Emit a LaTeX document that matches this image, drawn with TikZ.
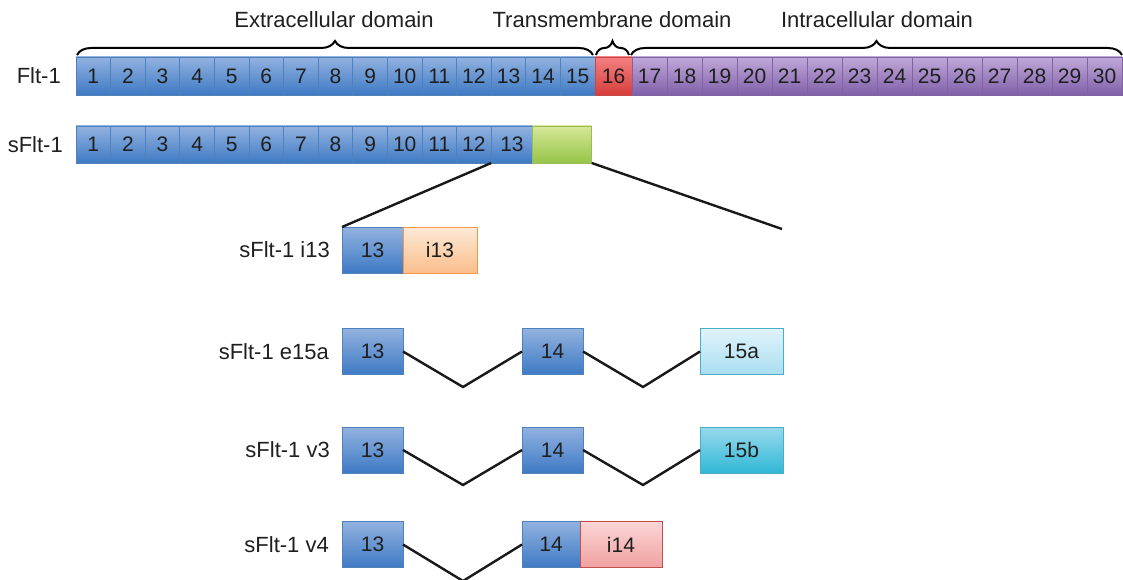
\documentclass[tikz,border=0pt]{standalone}
\usepackage{fontspec}
\setmainfont{Liberation Sans}
\usetikzlibrary{positioning, decorations.pathreplacing}

\definecolor{ExonTop}{RGB}{146,178,224}
\definecolor{ExonBottom}{RGB}{62,122,196}
\definecolor{ExonLine}{RGB}{79,129,189}
\definecolor{TmTop}{RGB}{244,128,128}
\definecolor{TmBottom}{RGB}{214,62,60}
\definecolor{TmLine}{RGB}{200,70,70}
\definecolor{IcTop}{RGB}{192,168,216}
\definecolor{IcBottom}{RGB}{128,96,170}
\definecolor{IcLine}{RGB}{128,100,162}
\definecolor{TailTop}{RGB}{214,232,152}
\definecolor{TailBottom}{RGB}{150,196,72}
\definecolor{TailLine}{RGB}{155,187,89}
\definecolor{IntronTop}{RGB}{253,234,214}
\definecolor{IntronBottom}{RGB}{250,190,140}
\definecolor{IntronLine}{RGB}{247,150,70}
\definecolor{AltATop}{RGB}{224,243,251}
\definecolor{AltABottom}{RGB}{170,222,240}
\definecolor{AltBTop}{RGB}{152,217,237}
\definecolor{AltBBottom}{RGB}{48,184,214}
\definecolor{AltLine}{RGB}{75,172,198}
\definecolor{RetTop}{RGB}{251,214,214}
\definecolor{RetBottom}{RGB}{241,160,160}
\definecolor{RetLine}{RGB}{192,80,77}
\colorlet{LabelText}{black!88}

\tikzset{
    segment/.style={inner sep=0pt, outer sep=0pt, line width=0.8pt,
        font=\fontsize{21}{25}\selectfont, text=LabelText},
    extra/.style={segment, draw=ExonLine, top color=ExonTop, bottom color=ExonBottom},
    tm/.style={segment, draw=TmLine, top color=TmTop, bottom color=TmBottom},
    intra/.style={segment, draw=IcLine, top color=IcTop, bottom color=IcBottom},
    tail/.style={segment, draw=TailLine, top color=TailTop, bottom color=TailBottom},
    intron/.style={segment, draw=IntronLine, top color=IntronTop, bottom color=IntronBottom},
    alta/.style={segment, draw=AltLine, top color=AltATop, bottom color=AltABottom},
    altb/.style={segment, draw=AltLine, top color=AltBTop, bottom color=AltBBottom},
    retained/.style={segment, draw=RetLine, top color=RetTop, bottom color=RetBottom},
    rowlabel/.style={inner sep=0pt, font=\fontsize{22}{26}\selectfont, text=LabelText},
    domaintext/.style={inner sep=0pt, font=\fontsize{22}{26}\selectfont, text=LabelText},
    splice/.style={line width=2.4pt, black!90},
    domainbrace/.style={decorate, decoration={brace, amplitude=14pt}, line width=2pt}
}

\begin{document}
\begin{tikzpicture}[x=1pt, y=-1pt]

    \useasboundingbox (0,0) rectangle (1123,580);

    % Flt-1 completo
    \foreach \i in {1,...,15}
        \node[extra, minimum width=34.6, minimum height=38] (f\i) at ({76+(\i-0.5)*34.6},76) {\i};
    \node[tm, minimum width=37, minimum height=38, right=0pt of f15] (f16) {16};
    \foreach \i in {17,...,30}
        \node[intra, minimum width=35, minimum height=38] (f\i) at ({632+(\i-16.5)*35},76) {\i};
    \node[rowlabel, left=15pt of f1] (flt) {Flt-1};

    % Llaves de los dominios
    \draw[domainbrace] ([xshift=1pt, yshift=2pt]f1.north west) -- ([xshift=-2pt, yshift=2pt]f15.north east);
    \draw[domainbrace] ([xshift=1pt, yshift=2pt]f16.north west) -- ([xshift=-3pt, yshift=2pt]f16.north east);
    \draw[domainbrace] ([xshift=-1pt, yshift=2pt]f17.north west) -- ([yshift=2pt]f30.north east);
    \node[domaintext] (extralabel) at (334,20) {Extracellular domain};
    \node[domaintext] (tmlabel) at (612,20) {Transmembrane domain};
    \node[domaintext] (intralabel) at (877,20) {Intracellular domain};

    % sFlt-1
    \foreach \i in {1,...,12}
        \node[extra, minimum width=34.6, minimum height=37] (s\i) at ({76+(\i-0.5)*34.6},144.5) {\i};
    \node[extra, minimum width=41.5, minimum height=37, right=0pt of s12] (s13) {13};
    \node[tail, minimum width=59, minimum height=37, right=0pt of s13] (stail) {};
    \node[rowlabel, left=13pt of s1] (sflt) {sFlt-1};

    % sFlt-1 i13
    \node[extra, minimum width=61, minimum height=46] (i13a) at (372.5,250) {13};
    \node[intron, minimum width=74, minimum height=46, right=0pt of i13a] (i13b) {i13};
    \node[rowlabel, left=12pt of i13a] (i13label) {sFlt-1 i13};

    % Lineas de ampliacion
    \coordinate (tailend) at (782,229);
    \draw[splice] (s13.south west) -- (i13a.north west);
    \draw[splice] (stail.south east) -- (tailend);

    % sFlt-1 e15a
    \node[extra, minimum width=61, minimum height=46] (e13) at (372.5,351.5) {13};
    \node[extra, minimum width=61, minimum height=46] (e14) at (552.5,351.5) {14};
    \node[alta, minimum width=83, minimum height=46] (e15) at (741.5,351.5) {15a};
    \node[rowlabel, left=13pt of e13] (e15alabel) {sFlt-1 e15a};
    \coordinate (eva) at (463,387);
    \coordinate (evb) at (643,387);
    \draw[splice] (e13.east) -- (eva) -- (e14.west);
    \draw[splice] (e14.east) -- (evb) -- (e15.west);

    % sFlt-1 v3
    \node[extra, minimum width=61, minimum height=46] (t13) at (372.5,450) {13};
    \node[extra, minimum width=61, minimum height=46] (t14) at (552.5,450) {14};
    \node[altb, minimum width=83, minimum height=46] (t15) at (741.5,450) {15b};
    \node[rowlabel, left=12pt of t13] (v3label) {sFlt-1 v3};
    \coordinate (tva) at (463,485);
    \coordinate (tvb) at (643,485);
    \draw[splice] (t13.east) -- (tva) -- (t14.west);
    \draw[splice] (t14.east) -- (tvb) -- (t15.west);

    % sFlt-1 v4
    \node[extra, minimum width=61, minimum height=46] (q13) at (372.5,544.5) {13};
    \node[extra, minimum width=58, minimum height=46] (q14) at (551,544.5) {14};
    \node[retained, minimum width=82, minimum height=46, right=0pt of q14] (q15) {i14};
    \node[rowlabel, left=13pt of q13] (v4label) {sFlt-1 v4};
    \coordinate (qva) at (463,581);
    \draw[splice] (q13.east) -- (qva) -- (q14.west);

\end{tikzpicture}
\end{document}
